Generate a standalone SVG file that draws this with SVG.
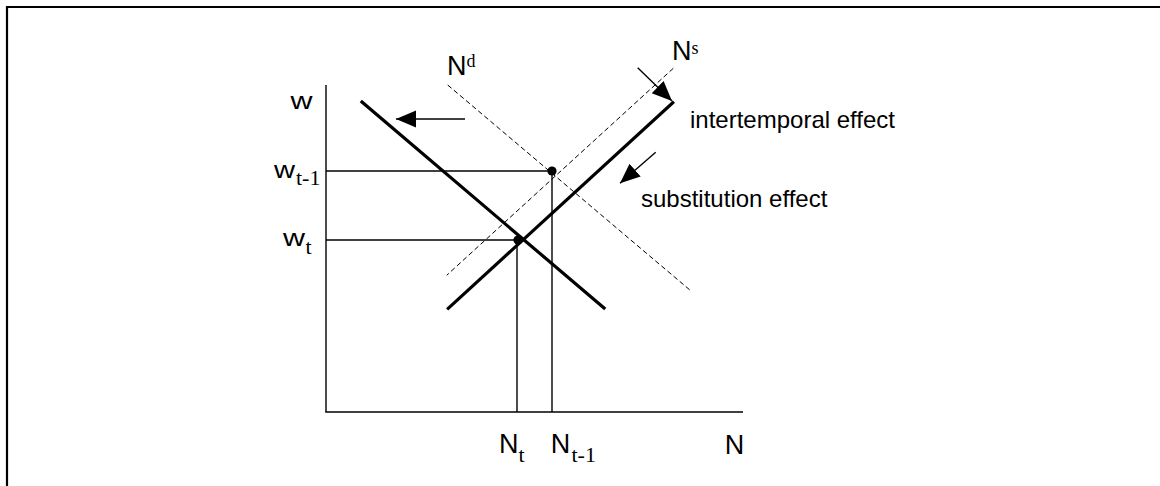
<svg xmlns="http://www.w3.org/2000/svg" width="1160" height="486" viewBox="0 0 1160 486">
<style>
.thin{stroke:#000;stroke-width:1.4;fill:none}
.thick{stroke:#000;stroke-width:3.2;fill:none;stroke-linecap:square}
.dash{stroke:#000;stroke-width:1;fill:none;stroke-dasharray:5 3}
.arr{stroke:#000;stroke-width:1.4;fill:none;marker-end:url(#ah)}
.sans{font-family:"Liberation Sans",Arial,sans-serif;fill:#000}
.serif{font-family:"Liberation Serif","Times New Roman",serif;fill:#000}
</style>
<defs>
<marker id="ah" markerUnits="userSpaceOnUse" markerWidth="20" markerHeight="18" refX="20" refY="8.5" orient="auto" viewBox="0 0 20 17">
<path d="M0,0 L20,8.5 L0,17 z" fill="#000"/>
</marker>
</defs>
<rect width="1160" height="486" fill="#fff"/>
<g id="frame">
<path d="M7,486 V7 H1160" stroke="#000" stroke-width="2.2" fill="none"/>
</g>
<g id="axes">
<line class="thin" x1="326" y1="85" x2="326" y2="412"/>
<line class="thin" x1="325.3" y1="412" x2="743" y2="412"/>
</g>
<g id="connectors">
<line class="thin" x1="326" y1="171" x2="552" y2="171"/>
<line class="thin" x1="552" y1="171" x2="552" y2="412"/>
<line class="thin" x1="326" y1="240" x2="518" y2="240"/>
<line class="thin" x1="517" y1="240" x2="517" y2="412"/>
<line class="dash" x1="447.7" y1="85" x2="690.7" y2="290.7"/>
<line class="dash" x1="673.3" y1="68.3" x2="446.7" y2="275.3"/>
<line class="thick" x1="362" y1="102" x2="604" y2="308"/>
<line class="thick" x1="672.7" y1="102.7" x2="448.3" y2="308.3"/>
<line class="arr" x1="465" y1="119" x2="396" y2="119"/>
<line class="arr" x1="637.7" y1="67.7" x2="672" y2="101"/>
<line class="arr" x1="655.7" y1="152.3" x2="620" y2="183.3"/>
</g>
<g id="dot-prev"><circle cx="552" cy="171" r="4.6" fill="#000"/></g>
<g id="dot-now"><circle cx="518" cy="240" r="4.6" fill="#000"/></g>
<g id="label-w">
<text class="sans" x="290.5" y="108.5" font-size="24" textLength="22" lengthAdjust="spacingAndGlyphs">w</text>
</g>
<g id="label-wt1">
<text class="sans" x="274" y="178" font-size="24" textLength="21" lengthAdjust="spacingAndGlyphs">w</text>
<text class="serif" x="296" y="184.5" font-size="22">t-1</text>
</g>
<g id="label-wt">
<text class="sans" x="283" y="246" font-size="24" textLength="22" lengthAdjust="spacingAndGlyphs">w</text>
<text class="serif" x="305.5" y="254" font-size="22">t</text>
</g>
<g id="label-Nd">
<text class="sans" x="447" y="75" font-size="27">N</text>
<text class="serif" x="466.5" y="67" font-size="18">d</text>
</g>
<g id="label-Ns">
<text class="sans" x="672" y="60" font-size="27">N</text>
<text class="serif" x="691.5" y="53.5" font-size="18">s</text>
</g>
<g id="label-Nt">
<text class="sans" x="499" y="453.3" font-size="27">N</text>
<text class="serif" x="518.5" y="461.7" font-size="22">t</text>
</g>
<g id="label-Nt1">
<text class="sans" x="550.7" y="453.3" font-size="27">N</text>
<text class="serif" x="571.5" y="461.7" font-size="22">t-1</text>
</g>
<g id="label-N">
<text class="sans" x="724.7" y="454" font-size="27">N</text>
</g>
<g id="label-inter">
<text class="sans" x="690" y="127.5" font-size="24">intertemporal effect</text>
</g>
<g id="label-subst">
<text class="sans" x="641" y="207" font-size="24">substitution effect</text>
</g>
</svg>
